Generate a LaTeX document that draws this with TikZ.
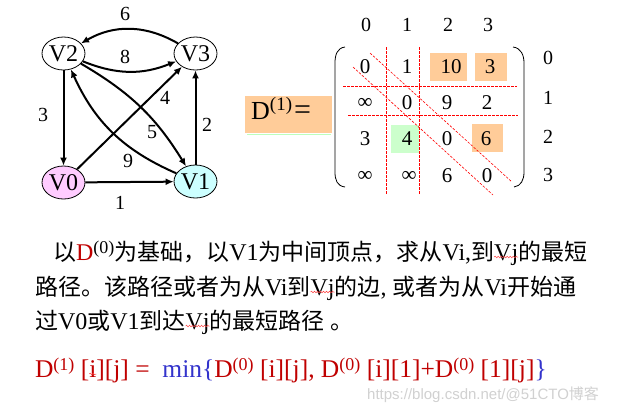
\documentclass[tikz,border=0pt]{standalone}
\usepackage{fontspec}
\setmainfont{Liberation Serif}
\newfontfamily\cjk{Noto Sans CJK SC}
\newfontfamily\wmfont{Liberation Sans}
\usetikzlibrary{arrows.meta,decorations.pathmorphing,shapes.geometric}
\definecolor{peach}{HTML}{FFCC99}
\definecolor{mint}{HTML}{CCFFCC}
\definecolor{pinkv}{HTML}{FFCCFF}
\definecolor{cyanv}{HTML}{CCFFFF}
\definecolor{dred}{HTML}{C00000}
\definecolor{dblue}{HTML}{3333CC}
\newcommand\zh[1]{{\cjk\fontsize{23}{26}\selectfont #1}}
\newcommand\mysup[1]{\raisebox{6.5pt}{\fontsize{18}{18}\selectfont #1}}
\begin{document}
\begin{tikzpicture}[x=1pt,y=-1pt,
 vert/.style={ellipse,draw,line width=0.8pt,minimum width=43pt,minimum height=33pt,inner sep=0pt,font=\fontsize{24}{24}\selectfont},
 edge/.style={line width=2pt,-{Latex[length=8pt,width=7pt]}},
 elab/.style={font=\fontsize{20}{20}\selectfont,inner sep=0pt},
 cell/.style={font=\fontsize{21}{21}\selectfont,inner sep=0pt},
 hdr/.style={font=\fontsize{20}{20}\selectfont,inner sep=0pt},
 rdash/.style={red,line width=0.6pt,dash pattern=on 2.5pt off 1.5pt},
 txt/.style={anchor=base west,inner sep=0pt,outer sep=0pt,font=\fontsize{24}{26}\selectfont},
 ftxt/.style={anchor=base west,inner sep=0pt,outer sep=0pt,font=\fontsize{25.5}{28}\selectfont},
 squig/.style={red!75,line width=0.5pt,decorate,decoration={snake,amplitude=0.8pt,segment length=3pt}}
]
\fill[white] (0,0) rectangle (621,416);
\useasboundingbox (0,0) rectangle (621,416);

% ---- graph ----
\node[vert] (V2) at (63.5,53.5) {V2};
\node[vert] (V3) at (195.5,53.5) {V3};
\node[vert,fill=pinkv] (V0) at (63.5,182.5) {V0};
\node[vert,fill=cyanv] (V1) at (195.5,181.5) {V1};

\draw[edge] (V3) to[bend right=30] (V2);
\draw[edge] (V2) to[bend right=22] (V3);
\draw[edge] (V2) -- (V0);
\draw[edge] (V1) -- (V3);
\draw[edge] (V0) -- (V1);
\draw[edge] (V0) -- (V3);
\draw[edge] (V2) to[bend left=14] (V1);
\draw[edge] (V1) to[bend left=21] (V2);

\node[elab] (w6) at (125,14) {6};
\node[elab] (w8) at (125,57) {8};
\node[elab] (w3) at (43,115) {3};
\node[elab] (w4) at (165,98) {4};
\node[elab] (w5) at (152,132) {5};
\node[elab] (w2) at (207,125) {2};
\node[elab] (w9) at (128,161) {9};
\node[elab] (w1) at (120,203) {1};

% ---- D(1) label ----
\fill[peach] (245,96) rectangle (332,133);
\draw[mint!70!green!60,line width=1pt] (247,134) -- (331,134);
\node[anchor=base west,inner sep=0pt] (Dlab) at (251,119)
  {\fontsize{26}{26}\selectfont D\raisebox{9pt}{\fontsize{19}{19}\selectfont(1)}\kern2pt\fontsize{30}{30}\selectfont=};

% ---- matrix ----
\fill[peach] (430,53) rectangle (467,81);
\fill[peach] (475,53) rectangle (507,81);
\fill[peach] (472,124) rectangle (503,152);
\fill[mint] (391,125) rectangle (419,153);

\draw[rdash] (386,47) -- (386,195);
\draw[rdash] (419,47) -- (419,195);
\draw[rdash] (343,86) -- (517,86);
\draw[rdash] (348,115) -- (518,115);
\draw[rdash] (370,53) -- (512,182);
\draw[rdash] (353,67) -- (493,195);

\draw[line width=0.8pt] (345,47) .. controls (337,48) and (335,55) .. (335,63) -- (335,172) .. controls (335,180) and (337,186) .. (345,187);
\draw[line width=0.8pt] (513,47) .. controls (521,48) and (524,55) .. (524,63) -- (524,172) .. controls (524,180) and (521,186) .. (514,187);

\foreach \c/\x in {0/366,1/407,2/448,3/488} \node[hdr] (h\c) at (\x,25) {\c};
\foreach \r/\y in {0/58,1/98,2/137,3/175} \node[hdr] (r\r) at (548,\y) {\r};

\node[cell] (m00) at (365,67) {0};
\node[cell] (m01) at (407,67) {1};
\node[cell] (m02) at (451,67) {10};
\node[cell] (m03) at (490,67) {3};
\node[cell] (m10) at (365,103) {∞};
\node[cell] (m11) at (407,103) {0};
\node[cell] (m12) at (447,103) {9};
\node[cell] (m13) at (487,103) {2};
\node[cell] (m20) at (365,139) {3};
\node[cell] (m21) at (407,139) {4};
\node[cell] (m22) at (447,139) {0};
\node[cell] (m23) at (486,139) {6};
\node[cell] (m30) at (365,176) {∞};
\node[cell] (m31) at (409,176) {∞};
\node[cell] (m32) at (447,176) {6};
\node[cell] (m33) at (487,176) {0};

% ---- text ----
\node[txt] (l1a) at (53,260) {\zh{以}\textcolor{dred}{D}\mysup{(0)}\zh{为基础，以}V1\zh{为中间顶点，求从}Vi,\zh{到}};
\node[txt] (l1b) at (l1a.base east) {Vj};
\node[txt] (l1c) at (l1b.base east) {\zh{的最短}};
\draw[squig] ([yshift=3pt]l1b.base west) -- ([yshift=3pt]l1b.base east);

\node[txt] (l2a) at (35,295) {\zh{路径。该路径或者为从}Vi\zh{到}};
\node[txt] (l2b) at (l2a.base east) {Vj};
\node[txt] (l2c) at (l2b.base east) {\zh{的边}, \zh{或者为从}Vi\zh{开始通}};
\draw[squig] ([yshift=3pt]l2b.base west) -- ([yshift=3pt]l2b.base east);

\node[txt] (l3a) at (35,329) {\zh{过}V0\zh{或}V1\zh{到达}};
\node[txt] (l3b) at (l3a.base east) {Vj};
\node[txt] (l3c) at (l3b.base east) {\zh{的最短路径} \zh{。}};
\draw[squig] ([yshift=3pt]l3b.base west) -- ([yshift=3pt]l3b.base east);

\node[ftxt,text=dred] (f1) at (35,377) {D\mysup{(1)} [};
\node[ftxt,text=dred] (f2) at (f1.base east) {i};
\node[ftxt] (f3) at (f2.base east) {\textcolor{dred}{][j] =\ \ }\textcolor{dblue}{min\{}\textcolor{dred}{D\mysup{(0)} [i][j], D\mysup{(0)} [i][1]+D\mysup{(0)} [1][j]}\textcolor{dblue}{\}}};
\draw[squig] ([yshift=3pt]f2.base west) -- ([yshift=3pt]f2.base east);

\node[anchor=west,inner sep=0pt,text=black!18,font=\wmfont\fontsize{15}{15}\selectfont] (wm) at (367,395) {https://blog.csdn.net/@51CTO{\cjk 博客}};
\end{tikzpicture}
\end{document}
